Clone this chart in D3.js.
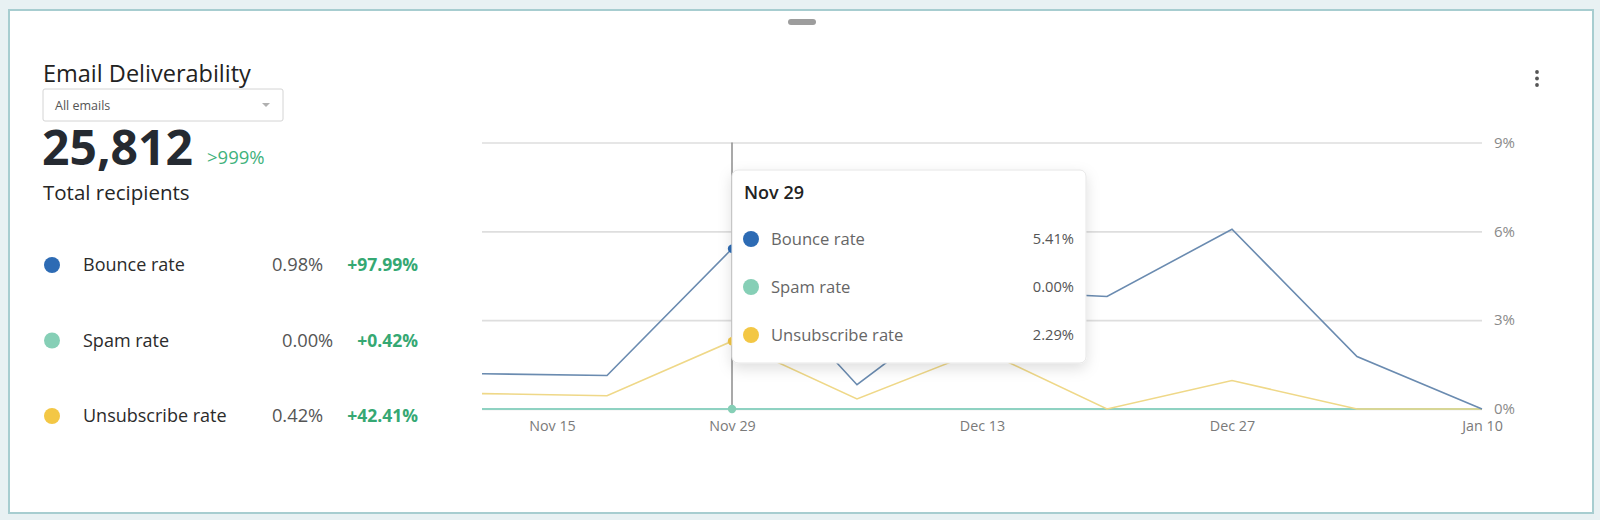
<!DOCTYPE html>
<html><head><meta charset="utf-8">
<script src="https://cdn.jsdelivr.net/npm/d3@7"></script>
<style>
html,body{margin:0;padding:0;background:#e8f1f3;}
svg{display:block;font-family:"Open Sans",Lato,sans-serif;}
</style></head>
<body><svg id="c" width="1600" height="520"></svg>
<script>
// ---- data ----
const dates = ["Nov 15","Nov 22","Nov 29","Dec 6","Dec 13","Dec 20","Dec 27","Jan 3","Jan 10"];
const bounceRate = [1.19,1.13,5.41,0.82,4.0,3.8,6.07,1.77,0.0];
const spamRate = [0,0,0,0,0,0,0,0,0];
const unsubscribeRate = [0.52,0.45,2.29,0.34,2.0,0,0.96,0,0];
const xTickLabels = ["Nov 15","Nov 29","Dec 13","Dec 27","Jan 10"];
const yTicks = [0,3,6,9];
const seriesNames = ["Bounce rate","Spam rate","Unsubscribe rate"];
const seriesTotals = ["0.98%","0.00%","0.42%"];
const seriesChanges = ["+97.99%","+0.42%","+42.41%"];
const tooltipDate = "Nov 29";
const totalRecipients = "25,812";
const totalChange = ">999%";
const chartTitle = "Email Deliverability";
const filterLabel = "All emails";
const totalLabel = "Total recipients";

// ---- styles ----
const dotColors = ["#2d6bb4","#86cfb6","#f3c745"];
const lineColors = ["#6a8bb0","#8fd2c2","#efd888"];
const seriesValues = [bounceRate, spamRate, unsubscribeRate];

const svg = d3.select("#c");
const defs = svg.append("defs");
const f = defs.append("filter").attr("id","sh").attr("x","-20%").attr("y","-20%").attr("width","140%").attr("height","150%");
f.append("feDropShadow").attr("dx",0).attr("dy",5).attr("stdDeviation",7).attr("flood-color","#000").attr("flood-opacity",0.13);

// card
svg.append("rect").attr("x",9).attr("y",10).attr("width",1584).attr("height",503)
  .attr("fill","#fff").attr("stroke","#a7cdd0").attr("stroke-width",2);
svg.append("rect").attr("x",788).attr("y",19).attr("width",28).attr("height",6).attr("rx",3).attr("fill","#9d9d9d");
svg.selectAll("circle.menu").data([0,1,2]).join("circle").attr("class","menu")
  .attr("cx",1537).attr("cy",d=>72+d*6.5).attr("r",1.9).attr("fill","#555");

// left panel
svg.append("text").attr("x",43).attr("y",82).attr("font-size",23.5).attr("font-weight",500).attr("fill","#222").text(chartTitle);
svg.append("rect").attr("x",43).attr("y",89).attr("width",240).attr("height",32).attr("rx",2)
  .attr("fill","#fff").attr("stroke","#d4d4d4");
svg.append("text").attr("x",55).attr("y",110).attr("font-size",12.5).attr("fill","#555").text(filterLabel);
svg.append("path").attr("d","M262,103 L270,103 L266,107 Z").attr("fill","#b0b0b0");
svg.append("text").attr("x",42).attr("y",165).attr("font-size",48).attr("font-weight",700).attr("fill","#252a31").text(totalRecipients);
svg.append("text").attr("x",207).attr("y",164).attr("font-size",18.5).attr("fill","#3fb27c").text(totalChange);
svg.append("text").attr("x",43).attr("y",200).attr("font-size",20.5).attr("font-weight",500).attr("fill","#262626").text(totalLabel);

const rowY = d3.scalePoint().domain(seriesNames).range([265,416]);
const rows = svg.selectAll("g.row").data(seriesNames).join("g").attr("class","row")
  .attr("transform",d=>`translate(0,${rowY(d)})`);
rows.append("circle").attr("cx",52).attr("r",8).attr("fill",(d,i)=>dotColors[i]);
rows.append("text").attr("x",83).attr("dy","0.35em").attr("font-size",18).attr("font-weight",500).attr("fill","#2b2b2b").text(d=>d);
rows.each(function(d,i){
  const g = d3.select(this);
  const ch = g.append("text").attr("x",418).attr("dy","0.35em").attr("text-anchor","end")
    .attr("font-size",17.5).attr("font-weight",700).attr("fill","#35a873").text(seriesChanges[i]);
  const w = ch.node().getComputedTextLength();
  g.append("text").attr("x",418-w-24).attr("dy","0.35em").attr("text-anchor","end")
    .attr("font-size",18.3).attr("fill","#555").text(seriesTotals[i]);
});

// chart
const x = d3.scalePoint().domain(dates).range([482,1482]);
const y = d3.scaleLinear().domain([0,9]).range([409,142.5]);

const gy = svg.append("g").attr("transform","translate(482,0)")
  .call(d3.axisRight(y).tickValues(yTicks).tickSize(1000).tickPadding(12).tickFormat(d=>d+"%"));
gy.select(".domain").remove();
gy.selectAll(".tick line").attr("stroke","#dedede").attr("stroke-width",1.6);
gy.selectAll(".tick text").attr("fill","#8a8a8a").attr("font-size",15).attr("font-family","'Open Sans',sans-serif");

const gx = svg.append("g").attr("transform",`translate(0,${y(0)})`)
  .call(d3.axisBottom(x).tickValues(xTickLabels).tickSize(0).tickPadding(12));
gx.select(".domain").remove();
gx.selectAll(".tick text").attr("fill","#7a7a7a").attr("font-size",14.3).attr("font-family","'Open Sans',sans-serif")
  .attr("dx",(d,i)=>i===0?70:0);

const line = d3.line().x((d,i)=>x(dates[i])).y(d=>y(d));
[1,2,0].forEach(k=>{
  svg.append("path").datum(seriesValues[k]).attr("d",line).attr("fill","none")
    .attr("stroke",lineColors[k]).attr("stroke-width",k===1?2:1.6);
});

// crosshair
const tx = x(tooltipDate), ti = dates.indexOf(tooltipDate);
svg.append("line").attr("x1",tx).attr("x2",tx).attr("y1",y(9)).attr("y2",y(0))
  .attr("stroke","#8c8c8c").attr("stroke-width",1.5);
seriesValues.forEach((s,k)=>{
  svg.append("circle").attr("cx",tx).attr("cy",y(s[ti])).attr("r",4.2).attr("fill",dotColors[k]);
});

// tooltip
const tt = svg.append("g").attr("transform",`translate(${tx},170)`);
tt.append("rect").attr("width",354).attr("height",193).attr("rx",6).attr("fill","#fff")
  .attr("stroke","#e6e6e6").attr("filter","url(#sh)");
tt.append("text").attr("x",12).attr("y",23).attr("dy","0.35em").attr("font-size",18).attr("font-weight",600).attr("fill","#222").text(tooltipDate);
const ty = d3.scalePoint().domain(seriesNames).range([69,165]);
seriesNames.forEach((n,k)=>{
  tt.append("circle").attr("cx",19).attr("cy",ty(n)).attr("r",8).attr("fill",dotColors[k]);
  tt.append("text").attr("x",39).attr("y",ty(n)).attr("dy","0.35em").attr("font-size",16.6).attr("fill","#666").text(n);
  tt.append("text").attr("x",342).attr("y",ty(n)).attr("dy","0.35em").attr("text-anchor","end").attr("font-size",14.7).attr("fill","#555")
    .text(d3.format(".2f")(seriesValues[k][ti])+"%");
});
</script></body></html>
